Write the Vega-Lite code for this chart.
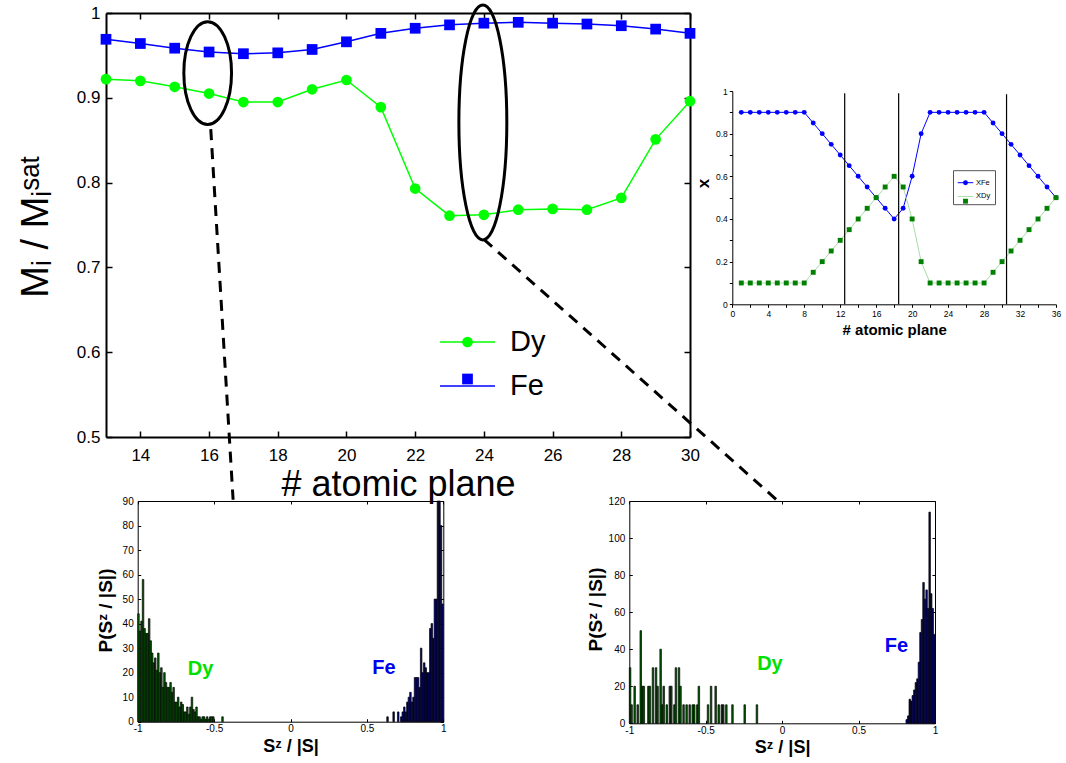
{
  "$schema": "https://vega.github.io/schema/vega-lite/v6.json",
  "width": 1066,
  "height": 763,
  "autosize": {"type": "none"},
  "padding": 0,
  "background": "white",
  "config": {
    "view": {"stroke": null},
    "axis": {"grid": false, "domainColor": "black", "tickColor": "black", "labelColor": "black", "titleColor": "black", "labelFont": "Liberation Sans", "titleFont": "Liberation Sans", "labelOverlap": false, "labelFlush": false, "labelBound": false},
    "legend": {"labelFont": "Liberation Sans", "labelColor": "black"}
  },
  "datasets": {
    "main": [
      {"p":13,"m":0.922,"s":"Dy"},{"p":14,"m":0.920,"s":"Dy"},{"p":15,"m":0.913,"s":"Dy"},{"p":16,"m":0.905,"s":"Dy"},{"p":17,"m":0.895,"s":"Dy"},{"p":18,"m":0.895,"s":"Dy"},{"p":19,"m":0.910,"s":"Dy"},{"p":20,"m":0.921,"s":"Dy"},{"p":21,"m":0.889,"s":"Dy"},{"p":22,"m":0.793,"s":"Dy"},{"p":23,"m":0.761,"s":"Dy"},{"p":24,"m":0.762,"s":"Dy"},{"p":25,"m":0.768,"s":"Dy"},{"p":26,"m":0.769,"s":"Dy"},{"p":27,"m":0.768,"s":"Dy"},{"p":28,"m":0.782,"s":"Dy"},{"p":29,"m":0.851,"s":"Dy"},{"p":30,"m":0.896,"s":"Dy"},
      {"p":13,"m":0.969,"s":"Fe"},{"p":14,"m":0.964,"s":"Fe"},{"p":15,"m":0.9585,"s":"Fe"},{"p":16,"m":0.954,"s":"Fe"},{"p":17,"m":0.952,"s":"Fe"},{"p":18,"m":0.953,"s":"Fe"},{"p":19,"m":0.957,"s":"Fe"},{"p":20,"m":0.966,"s":"Fe"},{"p":21,"m":0.976,"s":"Fe"},{"p":22,"m":0.982,"s":"Fe"},{"p":23,"m":0.986,"s":"Fe"},{"p":24,"m":0.988,"s":"Fe"},{"p":25,"m":0.989,"s":"Fe"},{"p":26,"m":0.988,"s":"Fe"},{"p":27,"m":0.987,"s":"Fe"},{"p":28,"m":0.985,"s":"Fe"},{"p":29,"m":0.981,"s":"Fe"},{"p":30,"m":0.976,"s":"Fe"}
    ],
    "inset": [
      {"p":1,"v":0.9,"s":"Fe"},{"p":2,"v":0.9,"s":"Fe"},{"p":3,"v":0.9,"s":"Fe"},{"p":4,"v":0.9,"s":"Fe"},{"p":5,"v":0.9,"s":"Fe"},{"p":6,"v":0.9,"s":"Fe"},{"p":7,"v":0.9,"s":"Fe"},{"p":8,"v":0.9,"s":"Fe"},{"p":9,"v":0.85,"s":"Fe"},{"p":10,"v":0.8,"s":"Fe"},{"p":11,"v":0.75,"s":"Fe"},{"p":12,"v":0.7,"s":"Fe"},{"p":13,"v":0.65,"s":"Fe"},{"p":14,"v":0.6,"s":"Fe"},{"p":15,"v":0.55,"s":"Fe"},{"p":16,"v":0.5,"s":"Fe"},{"p":17,"v":0.45,"s":"Fe"},{"p":18,"v":0.4,"s":"Fe"},{"p":19,"v":0.45,"s":"Fe"},{"p":20,"v":0.6,"s":"Fe"},{"p":21,"v":0.8,"s":"Fe"},{"p":22,"v":0.9,"s":"Fe"},{"p":23,"v":0.9,"s":"Fe"},{"p":24,"v":0.9,"s":"Fe"},{"p":25,"v":0.9,"s":"Fe"},{"p":26,"v":0.9,"s":"Fe"},{"p":27,"v":0.9,"s":"Fe"},{"p":28,"v":0.9,"s":"Fe"},{"p":29,"v":0.85,"s":"Fe"},{"p":30,"v":0.8,"s":"Fe"},{"p":31,"v":0.75,"s":"Fe"},{"p":32,"v":0.7,"s":"Fe"},{"p":33,"v":0.65,"s":"Fe"},{"p":34,"v":0.6,"s":"Fe"},{"p":35,"v":0.55,"s":"Fe"},{"p":36,"v":0.5,"s":"Fe"},
      {"p":1,"v":0.1,"s":"Dy"},{"p":2,"v":0.1,"s":"Dy"},{"p":3,"v":0.1,"s":"Dy"},{"p":4,"v":0.1,"s":"Dy"},{"p":5,"v":0.1,"s":"Dy"},{"p":6,"v":0.1,"s":"Dy"},{"p":7,"v":0.1,"s":"Dy"},{"p":8,"v":0.1,"s":"Dy"},{"p":9,"v":0.15,"s":"Dy"},{"p":10,"v":0.2,"s":"Dy"},{"p":11,"v":0.25,"s":"Dy"},{"p":12,"v":0.3,"s":"Dy"},{"p":13,"v":0.35,"s":"Dy"},{"p":14,"v":0.4,"s":"Dy"},{"p":15,"v":0.45,"s":"Dy"},{"p":16,"v":0.5,"s":"Dy"},{"p":17,"v":0.55,"s":"Dy"},{"p":18,"v":0.6,"s":"Dy"},{"p":19,"v":0.55,"s":"Dy"},{"p":20,"v":0.4,"s":"Dy"},{"p":21,"v":0.2,"s":"Dy"},{"p":22,"v":0.1,"s":"Dy"},{"p":23,"v":0.1,"s":"Dy"},{"p":24,"v":0.1,"s":"Dy"},{"p":25,"v":0.1,"s":"Dy"},{"p":26,"v":0.1,"s":"Dy"},{"p":27,"v":0.1,"s":"Dy"},{"p":28,"v":0.1,"s":"Dy"},{"p":29,"v":0.15,"s":"Dy"},{"p":30,"v":0.2,"s":"Dy"},{"p":31,"v":0.25,"s":"Dy"},{"p":32,"v":0.3,"s":"Dy"},{"p":33,"v":0.35,"s":"Dy"},{"p":34,"v":0.4,"s":"Dy"},{"p":35,"v":0.45,"s":"Dy"},{"p":36,"v":0.5,"s":"Dy"}
    ],
    "h1": [
      {"lo":-1,"hi":-0.99,"n":44,"s":"Dy"},{"lo":-0.99,"hi":-0.98,"n":37,"s":"Dy"},{"lo":-0.98,"hi":-0.97,"n":41,"s":"Dy"},{"lo":-0.97,"hi":-0.96,"n":58,"s":"Dy"},{"lo":-0.96,"hi":-0.95,"n":38,"s":"Dy"},{"lo":-0.95,"hi":-0.94,"n":36,"s":"Dy"},{"lo":-0.94,"hi":-0.93,"n":36,"s":"Dy"},{"lo":-0.93,"hi":-0.92,"n":42,"s":"Dy"},{"lo":-0.92,"hi":-0.91,"n":33,"s":"Dy"},{"lo":-0.91,"hi":-0.9,"n":28,"s":"Dy"},{"lo":-0.9,"hi":-0.89,"n":24,"s":"Dy"},{"lo":-0.89,"hi":-0.88,"n":26,"s":"Dy"},{"lo":-0.88,"hi":-0.87,"n":21,"s":"Dy"},{"lo":-0.87,"hi":-0.86,"n":28,"s":"Dy"},{"lo":-0.86,"hi":-0.85,"n":20,"s":"Dy"},{"lo":-0.85,"hi":-0.84,"n":22,"s":"Dy"},{"lo":-0.84,"hi":-0.83,"n":14,"s":"Dy"},{"lo":-0.83,"hi":-0.82,"n":20,"s":"Dy"},{"lo":-0.82,"hi":-0.81,"n":16,"s":"Dy"},{"lo":-0.81,"hi":-0.8,"n":14,"s":"Dy"},{"lo":-0.8,"hi":-0.79,"n":14,"s":"Dy"},{"lo":-0.79,"hi":-0.78,"n":16,"s":"Dy"},{"lo":-0.78,"hi":-0.77,"n":12,"s":"Dy"},{"lo":-0.77,"hi":-0.76,"n":14,"s":"Dy"},{"lo":-0.76,"hi":-0.75,"n":8,"s":"Dy"},{"lo":-0.75,"hi":-0.74,"n":8,"s":"Dy"},{"lo":-0.74,"hi":-0.73,"n":10,"s":"Dy"},{"lo":-0.73,"hi":-0.72,"n":6,"s":"Dy"},{"lo":-0.72,"hi":-0.71,"n":8,"s":"Dy"},{"lo":-0.71,"hi":-0.7,"n":7,"s":"Dy"},{"lo":-0.7,"hi":-0.69,"n":4,"s":"Dy"},{"lo":-0.69,"hi":-0.68,"n":4,"s":"Dy"},{"lo":-0.68,"hi":-0.67,"n":6,"s":"Dy"},{"lo":-0.67,"hi":-0.66,"n":3,"s":"Dy"},{"lo":-0.66,"hi":-0.65,"n":6,"s":"Dy"},{"lo":-0.65,"hi":-0.64,"n":10,"s":"Dy"},{"lo":-0.64,"hi":-0.63,"n":5,"s":"Dy"},{"lo":-0.63,"hi":-0.62,"n":4,"s":"Dy"},{"lo":-0.62,"hi":-0.61,"n":6,"s":"Dy"},{"lo":-0.61,"hi":-0.6,"n":2,"s":"Dy"},{"lo":-0.6,"hi":-0.59,"n":2,"s":"Dy"},{"lo":-0.59,"hi":-0.58,"n":1,"s":"Dy"},{"lo":-0.58,"hi":-0.57,"n":2,"s":"Dy"},{"lo":-0.57,"hi":-0.56,"n":2,"s":"Dy"},{"lo":-0.56,"hi":-0.55,"n":1,"s":"Dy"},{"lo":-0.55,"hi":-0.54,"n":2,"s":"Dy"},{"lo":-0.54,"hi":-0.53,"n":1,"s":"Dy"},{"lo":-0.53,"hi":-0.52,"n":2,"s":"Dy"},{"lo":-0.52,"hi":-0.51,"n":2,"s":"Dy"},{"lo":-0.51,"hi":-0.5,"n":2,"s":"Dy"},{"lo":-0.45,"hi":-0.44,"n":2,"s":"Dy"},
      {"lo":0.63,"hi":0.64,"n":2,"s":"Fe"},{"lo":0.67,"hi":0.68,"n":4,"s":"Fe"},{"lo":0.7,"hi":0.71,"n":4,"s":"Fe"},{"lo":0.72,"hi":0.73,"n":2,"s":"Fe"},{"lo":0.73,"hi":0.74,"n":4,"s":"Fe"},{"lo":0.74,"hi":0.75,"n":6,"s":"Fe"},{"lo":0.75,"hi":0.76,"n":4,"s":"Fe"},{"lo":0.76,"hi":0.77,"n":8,"s":"Fe"},{"lo":0.77,"hi":0.78,"n":10,"s":"Fe"},{"lo":0.78,"hi":0.79,"n":12,"s":"Fe"},{"lo":0.79,"hi":0.8,"n":8,"s":"Fe"},{"lo":0.8,"hi":0.81,"n":10,"s":"Fe"},{"lo":0.81,"hi":0.82,"n":18,"s":"Fe"},{"lo":0.82,"hi":0.83,"n":18,"s":"Fe"},{"lo":0.83,"hi":0.84,"n":18,"s":"Fe"},{"lo":0.84,"hi":0.85,"n":14,"s":"Fe"},{"lo":0.85,"hi":0.86,"n":30,"s":"Fe"},{"lo":0.86,"hi":0.87,"n":20,"s":"Fe"},{"lo":0.87,"hi":0.88,"n":24,"s":"Fe"},{"lo":0.88,"hi":0.89,"n":22,"s":"Fe"},{"lo":0.89,"hi":0.9,"n":20,"s":"Fe"},{"lo":0.9,"hi":0.91,"n":20,"s":"Fe"},{"lo":0.91,"hi":0.92,"n":38,"s":"Fe"},{"lo":0.92,"hi":0.93,"n":40,"s":"Fe"},{"lo":0.93,"hi":0.94,"n":34,"s":"Fe"},{"lo":0.94,"hi":0.95,"n":50,"s":"Fe"},{"lo":0.95,"hi":0.96,"n":50,"s":"Fe"},{"lo":0.96,"hi":0.97,"n":90,"s":"Fe"},{"lo":0.97,"hi":0.98,"n":90,"s":"Fe"},{"lo":0.98,"hi":0.99,"n":80,"s":"Fe"},{"lo":0.99,"hi":1,"n":48,"s":"Fe"}
    ],
    "h2": [
      {"lo":-1,"hi":-0.99,"n":30,"s":"Dy"},{"lo":-0.99,"hi":-0.98,"n":10,"s":"Dy"},{"lo":-0.97,"hi":-0.96,"n":20,"s":"Dy"},{"lo":-0.95,"hi":-0.94,"n":10,"s":"Dy"},{"lo":-0.93,"hi":-0.92,"n":50,"s":"Dy"},{"lo":-0.92,"hi":-0.91,"n":20,"s":"Dy"},{"lo":-0.91,"hi":-0.9,"n":20,"s":"Dy"},{"lo":-0.88,"hi":-0.87,"n":20,"s":"Dy"},{"lo":-0.87,"hi":-0.86,"n":20,"s":"Dy"},{"lo":-0.85,"hi":-0.84,"n":30,"s":"Dy"},{"lo":-0.83,"hi":-0.82,"n":30,"s":"Dy"},{"lo":-0.82,"hi":-0.81,"n":20,"s":"Dy"},{"lo":-0.8,"hi":-0.79,"n":40,"s":"Dy"},{"lo":-0.79,"hi":-0.78,"n":10,"s":"Dy"},{"lo":-0.78,"hi":-0.77,"n":20,"s":"Dy"},{"lo":-0.76,"hi":-0.75,"n":10,"s":"Dy"},{"lo":-0.74,"hi":-0.73,"n":20,"s":"Dy"},{"lo":-0.73,"hi":-0.72,"n":20,"s":"Dy"},{"lo":-0.71,"hi":-0.7,"n":10,"s":"Dy"},{"lo":-0.7,"hi":-0.69,"n":30,"s":"Dy"},{"lo":-0.68,"hi":-0.67,"n":30,"s":"Dy"},{"lo":-0.67,"hi":-0.66,"n":20,"s":"Dy"},{"lo":-0.65,"hi":-0.64,"n":10,"s":"Dy"},{"lo":-0.63,"hi":-0.62,"n":10,"s":"Dy"},{"lo":-0.61,"hi":-0.6,"n":10,"s":"Dy"},{"lo":-0.59,"hi":-0.58,"n":10,"s":"Dy"},{"lo":-0.58,"hi":-0.57,"n":10,"s":"Dy"},{"lo":-0.56,"hi":-0.55,"n":10,"s":"Dy"},{"lo":-0.55,"hi":-0.54,"n":20,"s":"Dy"},{"lo":-0.49,"hi":-0.48,"n":10,"s":"Dy"},{"lo":-0.47,"hi":-0.46,"n":20,"s":"Dy"},{"lo":-0.44,"hi":-0.43,"n":20,"s":"Dy"},{"lo":-0.42,"hi":-0.41,"n":10,"s":"Dy"},{"lo":-0.4,"hi":-0.39,"n":10,"s":"Dy"},{"lo":-0.39,"hi":-0.38,"n":10,"s":"Dy"},{"lo":-0.37,"hi":-0.36,"n":10,"s":"Dy"},{"lo":-0.33,"hi":-0.32,"n":10,"s":"Dy"},{"lo":-0.25,"hi":-0.24,"n":10,"s":"Dy"},{"lo":-0.17,"hi":-0.16,"n":10,"s":"Dy"},
      {"lo":0.81,"hi":0.82,"n":2,"s":"Fe"},{"lo":0.82,"hi":0.83,"n":4,"s":"Fe"},{"lo":0.83,"hi":0.84,"n":13,"s":"Fe"},{"lo":0.84,"hi":0.85,"n":12,"s":"Fe"},{"lo":0.85,"hi":0.86,"n":15,"s":"Fe"},{"lo":0.86,"hi":0.87,"n":18,"s":"Fe"},{"lo":0.87,"hi":0.88,"n":22,"s":"Fe"},{"lo":0.88,"hi":0.89,"n":24,"s":"Fe"},{"lo":0.89,"hi":0.9,"n":33,"s":"Fe"},{"lo":0.9,"hi":0.91,"n":49,"s":"Fe"},{"lo":0.91,"hi":0.92,"n":56,"s":"Fe"},{"lo":0.92,"hi":0.93,"n":76,"s":"Fe"},{"lo":0.93,"hi":0.94,"n":67,"s":"Fe"},{"lo":0.94,"hi":0.95,"n":72,"s":"Fe"},{"lo":0.95,"hi":0.96,"n":62,"s":"Fe"},{"lo":0.96,"hi":0.97,"n":114,"s":"Fe"},{"lo":0.97,"hi":0.98,"n":70,"s":"Fe"},{"lo":0.98,"hi":0.99,"n":62,"s":"Fe"},{"lo":0.99,"hi":1,"n":48,"s":"Fe"}
    ]
  },
  "layer": [
    {
      "layer": [
        {
          "data": {"name": "main"},
          "mark": {"type": "line", "strokeWidth": 1.5},
          "encoding": {
            "x": {"field": "p", "type": "quantitative", "scale": {"domain": [13, 30], "range": [106, 690], "nice": false, "zero": false},
              "axis": {"orient": "bottom", "offset": -326, "values": [14,16,18,20,22,24,26,28,30], "tickSize": -6, "tickWidth": 1.5, "domainWidth": 2, "labelPadding": 16, "labelFontSize": 17, "title": "# atomic plane", "titleFontSize": 36, "titleFontWeight": "normal", "titleY": 58.5, "titleBaseline": "alphabetic"}},
            "y": {"field": "m", "type": "quantitative", "scale": {"domain": [0.5, 1], "range": [437, 13], "nice": false, "zero": false},
              "axis": {"orient": "left", "offset": -106, "values": [0.5,0.6,0.7,0.8,0.9,1], "labelExpr": "datum.value == 1 ? '1' : format(datum.value, '.1f')", "tickSize": -6, "tickWidth": 1.5, "domainWidth": 2, "labelPadding": 12, "labelFontSize": 17, "title": "Mᵢ / Mᵢˢᵃᵗ", "titleFontSize": 38, "titleFontWeight": "normal", "titleAngle": 270, "titleX": -59, "titleY": 226, "titleBaseline": "alphabetic", "titleAlign": "center"}},
            "color": {"field": "s", "type": "nominal", "scale": {"domain": ["Dy", "Fe"], "range": ["#00ff00", "#0000ff"]},
              "legend": {"orient": "none", "legendX": 439, "legendY": 313.5, "title": null, "padding": 0, "labelFontSize": 29, "labelOffset": 14, "symbolType": "stroke", "symbolSize": 3025, "symbolStrokeWidth": 1.5, "rowPadding": -7}}
          }
        },
        {
          "data": {"name": "main"},
          "mark": {"type": "point", "filled": true, "size": 115, "opacity": 1},
          "encoding": {
            "x": {"field": "p", "type": "quantitative", "axis": null},
            "y": {"field": "m", "type": "quantitative", "axis": null},
            "fill": {"field": "s", "type": "nominal", "scale": {"domain": ["Fe", "Dy"], "range": ["#0000ff", "#00ff00"]},
              "legend": {"orient": "none", "legendX": 453, "legendY": 327.5, "title": null, "padding": 0, "values": ["Dy", "Fe"], "labelFontSize": 29, "labelOffset": 15, "labelExpr": "''", "symbolSize": 115, "rowPadding": 7}},
            "shape": {"field": "s", "type": "nominal", "scale": {"domain": ["Fe", "Dy"], "range": ["square", "circle"]},
              "legend": {"orient": "none", "legendX": 453, "legendY": 327.5, "title": null, "padding": 0, "values": ["Dy", "Fe"], "labelFontSize": 29, "labelOffset": 15, "labelExpr": "''", "symbolSize": 115, "rowPadding": 7}}
          }
        },
        {
          "data": {"name": "main"},
          "mark": {"type": "point", "opacity": 0},
          "encoding": {
            "x": {"field": "p", "type": "quantitative", "axis": {"orient": "top", "offset": -13, "values": [14,16,18,20,22,24,26,28,30], "labels": false, "tickSize": -6, "tickWidth": 1.5, "domainWidth": 2, "title": null}},
            "y": {"field": "m", "type": "quantitative", "axis": {"orient": "right", "offset": -376, "values": [0.5,0.6,0.7,0.8,0.9,1], "labels": false, "tickSize": -6, "tickWidth": 1.5, "domainWidth": 2, "title": null}}
          }
        },
        {
          "data": {"values": [{"p": 15.96, "m": 0.9292}]},
          "mark": {"type": "point", "shape": "M0,-1C0.2565,-1 0.4645,-0.5523 0.4645,0C0.4645,0.5523 0.2565,1 0,1C-0.2565,1 -0.4645,0.5523 -0.4645,0C-0.4645,-0.5523 -0.2565,-1 0,-1Z", "size": 10547, "filled": false, "stroke": "black", "strokeWidth": 3, "opacity": 1},
          "encoding": {
            "x": {"field": "p", "type": "quantitative", "axis": null},
            "y": {"field": "m", "type": "quantitative", "axis": null}
          }
        },
        {
          "data": {"values": [{"p": 23.97, "m": 0.8709}]},
          "mark": {"type": "point", "shape": "M0,-1C0.1127,-1 0.204,-0.5523 0.204,0C0.204,0.5523 0.1127,1 0,1C-0.1127,1 -0.204,0.5523 -0.204,0C-0.204,-0.5523 -0.1127,-1 0,-1Z", "size": 55225, "filled": false, "stroke": "black", "strokeWidth": 3, "opacity": 1},
          "encoding": {
            "x": {"field": "p", "type": "quantitative", "axis": null},
            "y": {"field": "m", "type": "quantitative", "axis": null}
          }
        },
        {
          "data": {"values": [{"p": 16.05, "m": 0.863, "p2": 16.7, "m2": 0.426}, {"p": 24.0, "m": 0.733, "p2": 32.52, "m2": 0.426}]},
          "mark": {"type": "rule", "strokeDash": [11, 8], "strokeWidth": 3, "color": "black"},
          "encoding": {
            "x": {"field": "p", "type": "quantitative", "axis": null},
            "x2": {"field": "p2"},
            "y": {"field": "m", "type": "quantitative", "axis": null},
            "y2": {"field": "m2"}
          }
        }
      ],
      "resolve": {"axis": {"x": "independent", "y": "independent"}}
    },
    {
      "layer": [
        {
          "data": {"name": "inset"},
          "mark": {"type": "line", "strokeWidth": 1},
          "encoding": {
            "x": {"field": "p", "type": "quantitative", "scale": {"domain": [0, 36], "range": [732.3, 1056], "nice": false, "zero": false},
              "axis": {"orient": "bottom", "offset": -458.7, "values": [0,2,4,6,8,10,12,14,16,18,20,22,24,26,28,30,32,34,36], "labelExpr": "datum.value % 4 === 0 ? datum.label : ''", "tickSize": 3, "domainWidth": 1, "labelFontSize": 8.5, "labelPadding": 2, "title": "# atomic plane", "titleFontSize": 15, "titleFontWeight": "bold", "titleY": 29.7, "titleBaseline": "alphabetic"}},
            "y": {"field": "v", "type": "quantitative", "scale": {"domain": [0, 1], "range": [304.3, 91], "nice": false, "zero": false},
              "axis": {"orient": "left", "offset": -732.3, "values": [0,0.1,0.2,0.3,0.4,0.5,0.6,0.7,0.8,0.9,1], "labelExpr": "round(datum.value*10) % 2 === 0 ? format(datum.value, '~g') : ''", "tickSize": 3, "domainWidth": 1, "labelFontSize": 8.5, "labelPadding": 2, "title": "x", "titleFontSize": 17, "titleFontWeight": "bold", "titleAngle": 270, "titleX": -24, "titleY": 183, "titleBaseline": "alphabetic", "titleAlign": "center"}},
            "color": {"field": "s", "type": "nominal", "scale": {"domain": ["Fe", "Dy"], "range": ["#0000ff", "#a8dca8"]},
              "legend": {"orient": "none", "legendX": 953, "legendY": 170.2, "title": null, "padding": 4, "strokeColor": "#555555", "symbolType": "stroke", "symbolSize": 243, "symbolStrokeWidth": 1, "labelFontSize": 7.5, "labelOffset": 2, "rowPadding": 1.75, "labelExpr": "'X' + datum.label"}}
          }
        },
        {
          "data": {"name": "inset"},
          "mark": {"type": "point", "filled": true, "size": 24, "opacity": 1},
          "encoding": {
            "x": {"field": "p", "type": "quantitative", "axis": null},
            "y": {"field": "v", "type": "quantitative", "axis": null},
            "fill": {"field": "s", "type": "nominal", "scale": {"domain": ["Dy", "Fe"], "range": ["#008000", "#0000ff"]},
              "legend": {"orient": "none", "legendX": 957.75, "legendY": 174.95, "title": null, "padding": 4, "values": ["Fe", "Dy"], "symbolSize": 24, "labelFontSize": 7.5, "labelOffset": 3, "labelExpr": "''", "rowPadding": 6.5}},
            "shape": {"field": "s", "type": "nominal", "scale": {"domain": ["Dy", "Fe"], "range": ["square", "circle"]},
              "legend": {"orient": "none", "legendX": 957.75, "legendY": 174.95, "title": null, "padding": 4, "values": ["Fe", "Dy"], "symbolSize": 24, "labelFontSize": 7.5, "labelOffset": 3, "labelExpr": "''", "rowPadding": 6.5}}
          }
        },
        {
          "data": {"values": [{"p": 12.5, "v": 0, "v2": 0.99}, {"p": 18.5, "v": 0, "v2": 0.99}, {"p": 30.5, "v": 0, "v2": 0.985}]},
          "mark": {"type": "rule", "strokeWidth": 1.2, "color": "black"},
          "encoding": {
            "x": {"field": "p", "type": "quantitative", "axis": null},
            "y": {"field": "v", "type": "quantitative", "axis": null},
            "y2": {"field": "v2"}
          }
        }
      ],
      "resolve": {"axis": {"x": "independent", "y": "independent"}}
    },
    {
      "layer": [
        {
          "data": {"name": "h1"},
          "mark": {"type": "bar", "stroke": "black", "strokeWidth": 0.7},
          "encoding": {
            "x": {"field": "lo", "type": "quantitative", "scale": {"domain": [-1, 1], "range": [137.7, 443.3], "nice": false, "zero": false},
              "axis": {"orient": "bottom", "offset": -41.3, "values": [-1,-0.5,0,0.5,1], "labelExpr": "replace(format(datum.value, '~g'), '\u2212', '-')", "tickSize": -3, "domainWidth": 1, "labelFontSize": 10, "labelPadding": 5, "title": "Sᶻ / |S|", "titleFontSize": 18, "titleFontWeight": "bold", "titleY": 30, "titleBaseline": "alphabetic"}},
            "x2": {"field": "hi"},
            "y": {"field": "n", "type": "quantitative", "scale": {"domain": [0, 90], "range": [721.7, 501], "nice": false, "zero": false},
              "axis": {"orient": "left", "offset": -137.7, "values": [0,10,20,30,40,50,60,70,80,90], "tickSize": -3, "domainWidth": 1, "labelFontSize": 10, "labelPadding": 7.5, "title": "P(Sᶻ / |S|)", "titleFontSize": 19, "titleFontWeight": "bold", "titleAngle": 270, "titleX": -26, "titleY": 610, "titleBaseline": "alphabetic", "titleAlign": "center"}},
            "y2": {"datum": 0},
            "color": {"condition": {"test": "datum.s === 'Dy'", "value": "#006000"}, "value": "#00007a"}
          }
        },
        {
          "data": {"name": "h1"},
          "mark": {"type": "point", "opacity": 0},
          "encoding": {
            "x": {"field": "lo", "type": "quantitative", "axis": {"orient": "top", "offset": -501, "values": [-1,-0.5,0,0.5,1], "labels": false, "tickSize": -3, "domainWidth": 1, "title": null}},
            "y": {"field": "n", "type": "quantitative", "axis": {"orient": "right", "offset": -622.7, "values": [0,10,20,30,40,50,60,70,80,90], "labels": false, "tickSize": -3, "domainWidth": 1, "title": null}}
          }
        },
        {
          "data": {"values": [{"lo": -0.589, "n": 21.5, "t": "Dy"}, {"lo": 0.612, "n": 21.7, "t": "Fe"}]},
          "mark": {"type": "text", "font": "Liberation Sans", "fontWeight": "bold", "fontSize": 20, "align": "center", "baseline": "middle"},
          "encoding": {
            "x": {"field": "lo", "type": "quantitative", "axis": null},
            "y": {"field": "n", "type": "quantitative", "axis": null},
            "text": {"field": "t"},
            "color": {"condition": {"test": "datum.t === 'Dy'", "value": "#00e000"}, "value": "#0000ee"}
          }
        }
      ],
      "resolve": {"axis": {"x": "independent", "y": "independent"}}
    },
    {
      "layer": [
        {
          "data": {"name": "h2"},
          "mark": {"type": "bar", "stroke": "black", "strokeWidth": 0.7},
          "encoding": {
            "x": {"field": "lo", "type": "quantitative", "scale": {"domain": [-1, 1], "range": [629.3, 935], "nice": false, "zero": false},
              "axis": {"orient": "bottom", "offset": -39.7, "values": [-1,-0.5,0,0.5,1], "labelExpr": "replace(format(datum.value, '~g'), '\u2212', '-')", "tickSize": -3, "domainWidth": 1, "labelFontSize": 10, "labelPadding": 5, "title": "Sᶻ / |S|", "titleFontSize": 18, "titleFontWeight": "bold", "titleY": 29, "titleBaseline": "alphabetic"}},
            "x2": {"field": "hi"},
            "y": {"field": "n", "type": "quantitative", "scale": {"domain": [0, 120], "range": [723.3, 501], "nice": false, "zero": false},
              "axis": {"orient": "left", "offset": -629.3, "values": [0,20,40,60,80,100,120], "tickSize": -3, "domainWidth": 1, "labelFontSize": 10, "labelPadding": 7.5, "title": "P(Sᶻ / |S|)", "titleFontSize": 19, "titleFontWeight": "bold", "titleAngle": 270, "titleX": -27.6, "titleY": 609, "titleBaseline": "alphabetic", "titleAlign": "center"}},
            "y2": {"datum": 0},
            "color": {"condition": {"test": "datum.s === 'Dy'", "value": "#006000"}, "value": "#00007a"}
          }
        },
        {
          "data": {"name": "h2"},
          "mark": {"type": "point", "opacity": 0},
          "encoding": {
            "x": {"field": "lo", "type": "quantitative", "axis": {"orient": "top", "offset": -501, "values": [-1,-0.5,0,0.5,1], "labels": false, "tickSize": -3, "domainWidth": 1, "title": null}},
            "y": {"field": "n", "type": "quantitative", "axis": {"orient": "right", "offset": -131, "values": [0,20,40,60,80,100,120], "labels": false, "tickSize": -3, "domainWidth": 1, "title": null}}
          }
        },
        {
          "data": {"values": [{"lo": -0.08, "n": 32, "t": "Dy"}, {"lo": 0.748, "n": 41.9, "t": "Fe"}]},
          "mark": {"type": "text", "font": "Liberation Sans", "fontWeight": "bold", "fontSize": 20, "align": "center", "baseline": "middle"},
          "encoding": {
            "x": {"field": "lo", "type": "quantitative", "axis": null},
            "y": {"field": "n", "type": "quantitative", "axis": null},
            "text": {"field": "t"},
            "color": {"condition": {"test": "datum.t === 'Dy'", "value": "#00e000"}, "value": "#0000ee"}
          }
        }
      ],
      "resolve": {"axis": {"x": "independent", "y": "independent"}}
    }
  ],
  "resolve": {
    "scale": {"x": "independent", "y": "independent", "color": "independent", "fill": "independent", "shape": "independent"},
    "axis": {"x": "independent", "y": "independent"},
    "legend": {"color": "independent", "fill": "independent", "shape": "independent"}
  }
}
